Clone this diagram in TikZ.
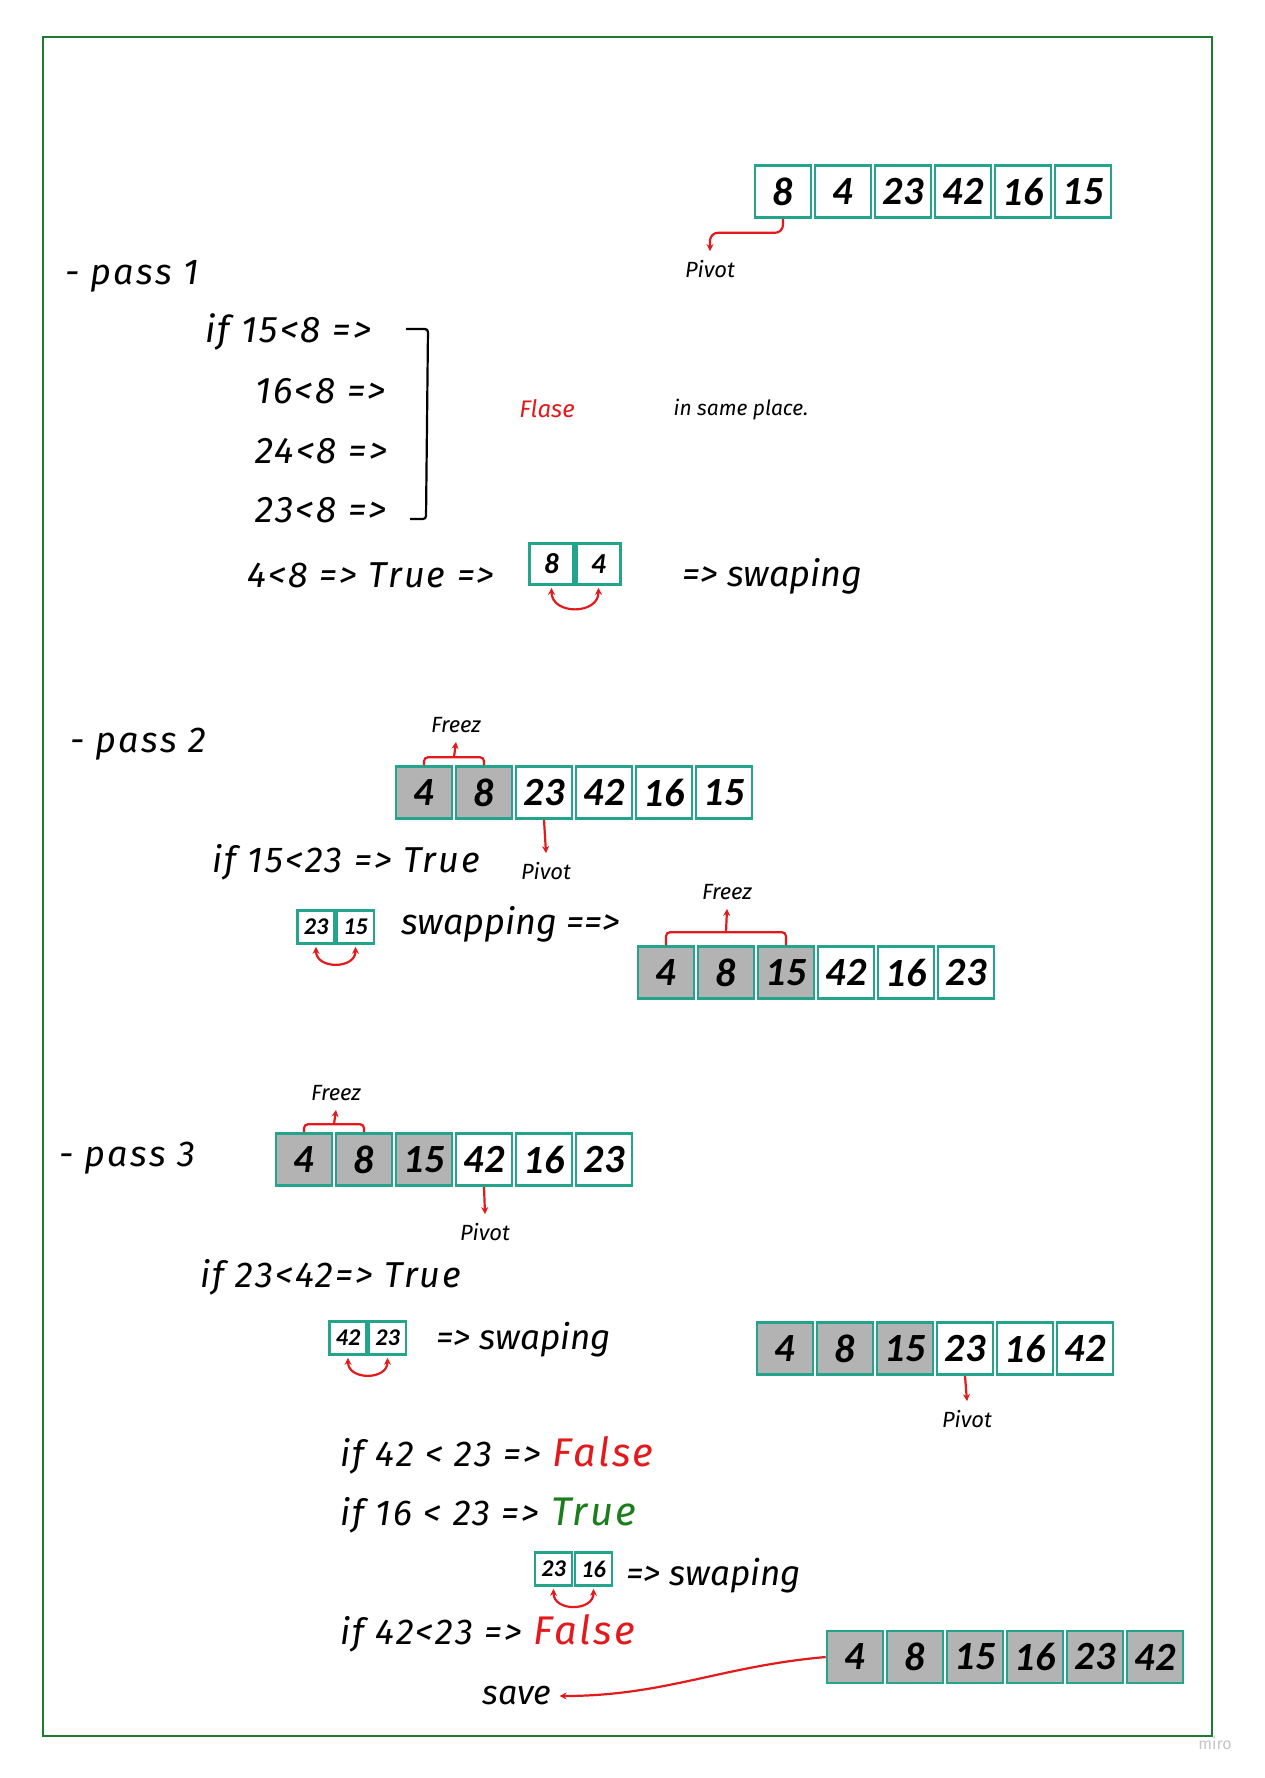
\documentclass[tikz,border=0pt]{standalone}
\usepackage{fontspec}
\setmainfont{Fira Sans}
\newfontfamily\handfont{Fira Sans}[LetterSpace=6]
\newfontfamily\cellfont{Carlito}
\usetikzlibrary{positioning, arrows.meta, calc}

\definecolor{cellteal}{HTML}{23A48B}
\definecolor{frozengray}{HTML}{B3B3B3}
\definecolor{arrowred}{HTML}{E3191C}
\definecolor{truegreen}{HTML}{1C7D1C}
\definecolor{framegreen}{HTML}{1E7A30}

\begin{document}
\begin{tikzpicture}[x=1pt,y=-1pt,node distance=60pt,on grid,>={Stealth[length=7pt,width=7pt]},
	cell/.style={draw=cellteal,line width=2.6pt,fill=white,minimum width=56pt,minimum height=52pt,inner sep=0pt,font=\cellfont\bfseries\itshape\fontsize{40}{40}\selectfont},
	frozen/.style={cell,fill=frozengray},
	smallcell/.style={cell,minimum width=44pt,minimum height=41pt,font=\cellfont\bfseries\itshape\fontsize{29}{29}\selectfont},
	minicell/.style={cell,minimum width=37pt,minimum height=33pt,font=\cellfont\bfseries\itshape\fontsize{24}{24}\selectfont},
	hand/.style={font=\handfont\itshape\fontsize{#1}{#1}\selectfont,inner sep=0pt,anchor=west},
	hand/.default=36,
	handtext/.style={font=\itshape\fontsize{#1}{#1}\selectfont,inner sep=0pt,anchor=west},
	handtext/.default=36,
	note/.style={font=\itshape\fontsize{22}{22}\selectfont,inner xsep=0pt,inner ysep=9pt},
	redarrow/.style={->,draw=arrowred,line width=2.2pt},
	freeze/.style={draw=arrowred,line width=2.2pt,rounded corners=4pt},
	swap/.style={<->,draw=arrowred,line width=2.2pt,shorten <=2pt,shorten >=2pt,out=-90,in=-90,looseness=1.6}]
		\path[use as bounding box,fill=white] (0,0) rectangle (1265,1778);
		\draw[framegreen,line width=2.5pt] (43,37) rectangle (1212,1736);

		% start
		\node[cell] (a1) at (783,191.5) {8};
		\node[cell] (a2) [right=of a1] {4};
		\node[cell] (a3) [right=of a2] {23};
		\node[cell] (a4) [right=of a3] {42};
		\node[cell] (a5) [right=of a4] {16};
		\node[cell] (a6) [right=of a5] {15};
		\node[note] (pv1) at (710,269) {Pivot};
		\draw[redarrow,rounded corners=8pt] (a1.south) -- ++(0,14) -| (pv1.north);

		% pass 1
		\node[hand] (pass1) at (65,276) {- pass 1};
		\node[hand=37] (if1) at (205,332) {if 15<8 =>};
		\node[hand=37] (c16) at (255,391) {16<8 =>};
		\node[hand=37] (c24) at (255,451) {24<8 =>};
		\node[hand=37] (c23) at (255,510) {23<8 =>};
		\draw[line width=2.2pt,rounded corners=3pt] (406,329) -- (428,329) -- (426,519) -- (410,519);
		\node[font=\itshape\fontsize{24}{24}\selectfont,text=arrowred,inner sep=0pt] (flase) at (547,409) {Flase};
		\node[font=\itshape\fontsize{21}{21}\selectfont,inner sep=0pt] (same) at (741,410) {in same place.};
		\node[hand] (true1) at (247,575) {4<8 => True =>};
		\node[smallcell] (s1) at (551.5,564) {8};
		\node[smallcell] (s2) [right=47pt of s1] {4};
		\draw[swap] (s1.south) to (s2.south);
		\node[handtext] (swap1) at (682,576) {=> swaping};

		% pass 2
		\node[hand] (pass2) at (70,744) {- pass 2};
		\node[frozen] (b1) at (424,792.5) {4};
		\node[frozen] (b2) [right=of b1] {8};
		\node[cell] (b3) [right=of b2] {23};
		\node[cell] (b4) [right=of b3] {42};
		\node[cell] (b5) [right=of b4] {16};
		\node[cell] (b6) [right=of b5] {15};
		\node[note] (frz1) at (456,725) {Freez};
		\draw[freeze] (b1.north) -- ++(0,-8) -| (b2.north);
		\draw[redarrow] ($(b1.north)!0.5!(b2.north)+(0,-8)$) -- (frz1.south);
		\node[note] (pv2) at (546,871) {Pivot};
		\draw[redarrow] (b3.south) -- (pv2.north);
		\node[hand] (if2) at (212,862) {if 15<23 => True};
		\node[minicell] (m1) at (316,927) {23};
		\node[minicell] (m2) [right=39.5pt of m1] {15};
		\draw[swap] (m1.south) to (m2.south);
		\node[handtext] (swap2) at (401,924) {swapping ==>};
		\node[frozen] (c1) at (666,972.5) {4};
		\node[frozen] (c2) [right=of c1] {8};
		\node[frozen] (c3) [right=of c2] {15};
		\node[cell] (c4) [right=of c3] {42};
		\node[cell] (c5) [right=of c4] {16};
		\node[cell] (c6) [right=of c5] {23};
		\node[note] (frz2) at (727,892) {Freez};
		\draw[freeze] (c1.north) -- ++(0,-13) -| (c3.north);
		\draw[redarrow] ($(c2.north)+(0,-13)$) -- (frz2.south);

		% pass 3
		\node[hand] (pass3) at (59,1158) {- pass 3};
		\node[frozen] (d1) at (304,1159.5) {4};
		\node[frozen] (d2) [right=of d1] {8};
		\node[frozen] (d3) [right=of d2] {15};
		\node[cell] (d4) [right=of d3] {42};
		\node[cell] (d5) [right=of d4] {16};
		\node[cell] (d6) [right=of d5] {23};
		\node[note] (frz3) at (336,1093) {Freez};
		\draw[freeze] (d1.north) -- ++(0,-8) -| (d2.north);
		\draw[redarrow] ($(d1.north)!0.5!(d2.north)+(0,-8)$) -- (frz3.south);
		\node[note] (pv3) at (485,1232) {Pivot};
		\draw[redarrow] (d4.south) -- (pv3.north);
		\node[hand] (if3) at (200,1277) {if 23<42=> True};
		\node[minicell] (n1) at (348,1338) {42};
		\node[minicell] (n2) [right=39.5pt of n1] {23};
		\draw[swap] (n1.south) to (n2.south);
		\node[handtext=35] (swap3) at (436,1340) {=> swaping};
		\node[frozen] (e1) at (785,1348.5) {4};
		\node[frozen] (e2) [right=of e1] {8};
		\node[frozen] (e3) [right=of e2] {15};
		\node[cell] (e4) [right=of e3] {23};
		\node[cell] (e5) [right=of e4] {16};
		\node[cell] (e6) [right=of e5] {42};
		\node[note] (pv4) at (967,1419) {Pivot};
		\draw[redarrow] (e4.south) -- (pv4.north);
		\node[hand] (if4) at (340,1455) {if 42 < 23 => \textcolor{arrowred}{\fontsize{40}{40}\selectfont False}};
		\node[hand] (if5) at (340,1515) {if 16 < 23 => \textcolor{truegreen}{\fontsize{40}{40}\selectfont True}};
		\node[minicell] (k1) at (553.5,1569) {23};
		\node[minicell] (k2) [right=40pt of k1] {16};
		\draw[swap] (k1.south) to (k2.south);
		\node[handtext=35] (swap4) at (626,1576) {=> swaping};
		\node[hand] (if6) at (340,1633) {if 42<23 => \textcolor{arrowred}{\fontsize{40}{40}\selectfont False}};
		\node[frozen] (f1) at (855,1657) {4};
		\node[frozen] (f2) [right=of f1] {8};
		\node[frozen] (f3) [right=of f2] {15};
		\node[frozen] (f4) [right=of f3] {16};
		\node[frozen] (f5) [right=of f4] {23};
		\node[frozen] (f6) [right=of f5] {42};
		\node[font=\itshape\fontsize{34}{34}\selectfont,inner sep=8pt] (save) at (517,1696) {save};
		\draw[redarrow] (f1.west) to[out=185,in=0] (save.east);

		\node[font=\fontsize{16}{16}\selectfont,text=gray!45,inner sep=0pt] (miro) at (1215,1743) {miro};
	\end{tikzpicture}
\end{document}
